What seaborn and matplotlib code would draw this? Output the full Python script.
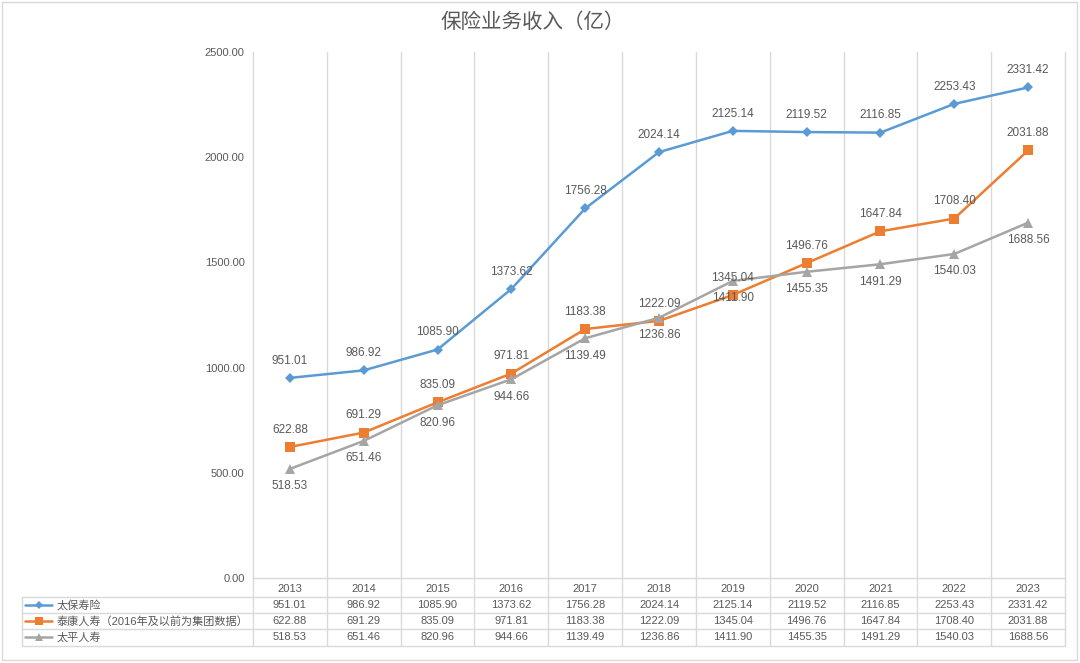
import numpy as np
import pandas as pd
import matplotlib
matplotlib.use("Agg")
import matplotlib.pyplot as plt
import matplotlib.transforms as mtransforms
from matplotlib.lines import Line2D
from matplotlib.patches import Rectangle
import seaborn as sns

# ---- data ----
years = ["2013", "2014", "2015", "2016", "2017", "2018", "2019", "2020", "2021", "2022", "2023"]
series_names = ["太保寿险", "泰康人寿（2016年及以前为集团数据）", "太平人寿"]
taibao = [951.01, 986.92, 1085.90, 1373.62, 1756.28, 2024.14, 2125.14, 2119.52, 2116.85, 2253.43, 2331.42]
taikang = [622.88, 691.29, 835.09, 971.81, 1183.38, 1222.09, 1345.04, 1496.76, 1647.84, 1708.40, 2031.88]
taiping = [518.53, 651.46, 820.96, 944.66, 1139.49, 1236.86, 1411.90, 1455.35, 1491.29, 1540.03, 1688.56]
title = "保险业务收入（亿）"
yticks = [0, 500, 1000, 1500, 2000, 2500]

colors = ["#5B9BD5", "#ED7D31", "#A5A5A5"]
markers = ["D", "s", "^"]
msizes = [5, 7, 7]
label_pos = ["above", "above", "below"]
values = [taibao, taikang, taiping]

sns.set_theme(style="white")
plt.rcParams["font.family"] = ["Liberation Sans", "Noto Sans CJK SC", "DejaVu Sans"]
TXT = "#595959"
GRID = "#D9D9D9"

W, H = 1080, 663
fig = plt.figure(figsize=(W / 100, H / 100), dpi=100)

def fx(x):
    return x / W

def fy(y):
    return 1 - y / H

L, R, T, B = 253, 1065, 52, 578
ax = fig.add_axes([fx(L), fy(B), fx(R) - fx(L), fy(T) - fy(B)])

rows = []
for name, vals in zip(series_names, values):
    for i, v in enumerate(vals):
        rows.append({"idx": i, "value": v, "series": name})
df = pd.DataFrame(rows)

for name, c, m, ms in zip(series_names, colors, markers, msizes):
    sns.lineplot(data=df[df.series == name], x="idx", y="value", color=c,
                 marker=m, markersize=ms, markeredgewidth=0, linewidth=1.8,
                 ax=ax, legend=False, zorder=3)

# data labels
for vals, pos in zip(values, label_pos):
    for i, v in enumerate(vals):
        off = 12.5 if pos == "above" else -12.5
        ax.annotate(f"{v:.2f}", (i, v), xytext=(0, off), textcoords="offset points",
                    ha="center", va="center", fontsize=8.5, color=TXT, zorder=4)

ax.set_xlim(-0.5, len(years) - 0.5)
ax.set_ylim(0, 2500)
ax.set_yticks(yticks)
ax.set_yticklabels([f"{v:.2f}" for v in yticks], fontsize=8, color=TXT)
ax.set_xticks(range(len(years)))
ax.set_xticklabels(years, fontsize=8, color=TXT)
ax.tick_params(axis="y", length=0, pad=6)
ax.tick_params(axis="x", length=0, pad=4)
ax.set_xlabel("")
ax.set_ylabel("")
for s in ["top", "right", "left"]:
    ax.spines[s].set_visible(False)
ax.spines["bottom"].set_color(GRID)
ax.spines["bottom"].set_linewidth(1)

# vertical gridlines extending through table
tbl_bottom = 646
ymin_ax = -(tbl_bottom - B) / (B - T)
for b in np.arange(-0.5, len(years), 1.0):
    ax.axvline(b, ymin=ymin_ax, ymax=1, color=GRID, lw=1, clip_on=False, zorder=0)

# table horizontal lines
for yy in [597, 613, 629, 646]:
    fig.add_artist(Line2D([fx(22), fx(R)], [fy(yy), fy(yy)], color=GRID, lw=1))
fig.add_artist(Line2D([fx(22), fx(22)], [fy(597), fy(646)], color=GRID, lw=1))

# table values
trans = mtransforms.blended_transform_factory(ax.transData, fig.transFigure)
row_centers = [605, 621, 637]
for vals, yc in zip(values, row_centers):
    for i, v in enumerate(vals):
        ax.text(i, fy(yc), f"{v:.2f}", transform=trans, ha="center", va="center",
                fontsize=8, color=TXT, clip_on=False)

# legend keys in table
for name, c, m, ms, yc in zip(series_names, colors, markers, msizes, row_centers):
    fig.add_artist(Line2D([fx(25), fx(52)], [fy(yc), fy(yc)], color=c, lw=1.8))
    fig.add_artist(Line2D([fx(38.5)], [fy(yc)], color=c, marker=m, markersize=ms - 1,
                          markeredgewidth=0, lw=0))
    fig.text(fx(57), fy(yc), name, ha="left", va="center", fontsize=8, color=TXT)

# title
fig.text(fx(533), fy(22), title, ha="center", va="center", fontsize=14.8, color=TXT,
         family=["Noto Sans CJK SC", "DejaVu Sans"])

# outer border
fig.add_artist(Rectangle((fx(2), fy(660)), fx(1077) - fx(2), fy(2) - fy(660),
                         fill=False, edgecolor=GRID, lw=1, transform=fig.transFigure))

fig.savefig("out.png", dpi=100)
